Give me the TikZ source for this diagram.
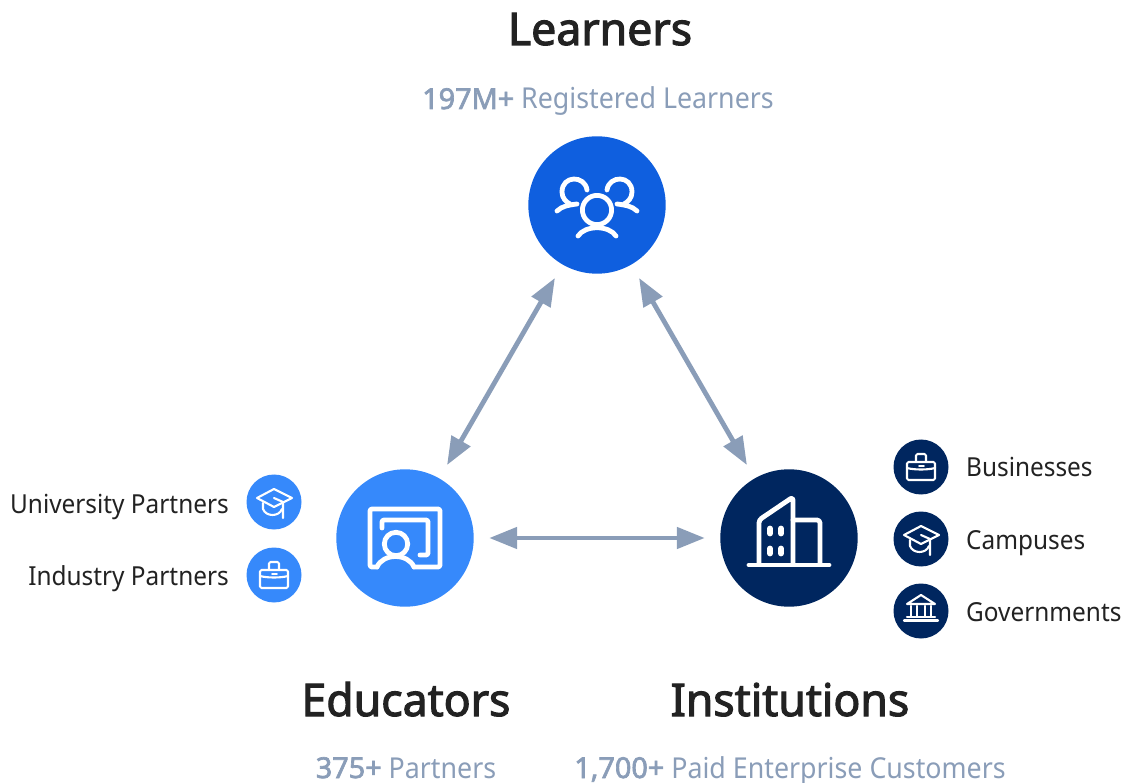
\documentclass[tikz,border=0pt]{standalone}
\usepackage{fontspec}
\setmainfont[FakeStretch=0.93]{Noto Sans}
\newfontfamily\strongf[FakeStretch=0.99,FakeBold=2.4]{Noto Sans}
\newfontfamily\figf[FakeStretch=1.0,FakeBold=2.4]{Noto Sans}
\usetikzlibrary{arrows.meta}
\definecolor{arrowc}{HTML}{8A9DB8}
\definecolor{statc}{HTML}{8A9DB8}
\definecolor{inkc}{HTML}{222222}
\definecolor{learnc}{HTML}{0F5FDF}
\definecolor{educ}{HTML}{3689FB}
\definecolor{instc}{HTML}{00265F}
\tikzset{
  bigdisc/.style={circle,minimum size=137.4pt,inner sep=0pt,outer sep=0pt},
  smalldisc/.style={circle,minimum size=55pt,inner sep=0pt,outer sep=0pt},
  title/.style={anchor=base,font=\fontsize{45}{45}\selectfont\strongf,text=inkc,inner sep=0pt},
  stat/.style={anchor=base,font=\fontsize{28.8}{29}\selectfont,text=statc,inner sep=0pt},
  lab/.style={font=\fontsize{26.2}{26}\selectfont,text=inkc,inner sep=0pt},
  link/.style={draw=arrowc,line width=4.8pt,{Triangle[length=28pt,width=21pt]}-{Triangle[length=28pt,width=21pt]},shorten <=15.5pt,shorten >=15.5pt},
  bigicon/.style={draw=white,line width=4.8pt,line cap=round,line join=round},
  smallicon/.style={draw=white,line width=2.1pt,line cap=round,line join=round},
  pics/briefcase/.style={code={
    \draw[smallicon,rounded corners=1.5pt] (-14,-5) rectangle (14,13);
    \draw[smallicon,rounded corners=1.5pt] (-5,-5) -- (-5,-13) -- (5,-13) -- (5,-5);
    \draw[smallicon] (-14,1) .. controls (-7,3) and (7,3) .. (14,1);
    \draw[smallicon,line width=1.6pt] (-2,-1) -- (3,-1);
  }},
  pics/gradcap/.style={code={
    \draw[smallicon] (-17,-4) -- (0,-13) -- (18,-4) -- (0,5) -- cycle;
    \draw[smallicon] (-11,1) -- (-11,7) .. controls (-8,15) and (5,15) .. (8,7);
    \draw[smallicon] (0,-4) -- (9,0) -- (9,16);
  }},
  pics/bank/.style={code={
    \draw[smallicon] (-14,-7) -- (0,-16) -- (14,-7) -- cycle;
    \draw[smallicon] (-10,-5) -- (-10,5) (-4,-5) -- (-4,5) (4,-5) -- (4,5) (10,-5) -- (10,5);
    \draw[smallicon] (-14,6) -- (14,6);
    \draw[smallicon] (-17,9.5) -- (17,9.5);
  }},
  pics/crowd/.style={code={
    \draw[bigicon] (0,5) circle (14.6);
    \draw[bigicon] (-19,31) .. controls (-12,20) and (12,20) .. (19,31);
    \draw[bigicon] (-10,-15) .. controls (-12,-30) and (-35,-30) .. (-35,-13) .. controls (-35,-7) and (-31,-3) .. (-27,-1);
    \draw[bigicon] (10,-15) .. controls (12,-30) and (35,-30) .. (35,-13) .. controls (35,-7) and (31,-3) .. (27,-1);
    \draw[bigicon] (-40,6) .. controls (-35,1) and (-28,0) .. (-20,-1);
    \draw[bigicon] (40,6) .. controls (35,1) and (28,0) .. (20,-1);
  }},
  pics/teacher/.style={code={
    \draw[bigicon,rounded corners=2pt] (-28,29) -- (-35,29) -- (-35,-29) -- (35,-29) -- (35,29) -- (9,29);
    \draw[bigicon] (-9,6) circle (11.7);
    \draw[bigicon] (-28,29) .. controls (-22,15) and (3,15) .. (9,29);
    \draw[bigicon,rounded corners=2pt] (-23,-10) -- (-23,-18) -- (23,-18) -- (23,17) -- (15,17);
  }},
  pics/tower/.style={code={
    \draw[bigicon] (-40,27) -- (40,27);
    \draw[bigicon,rounded corners=3pt] (-30,26) -- (-30,-18) -- (4,-41) -- (4,26);
    \draw[bigicon,rounded corners=3pt] (4,-18) -- (31,-18) -- (31,26);
    \foreach \wx in {-19,-8} \foreach \wy in {-7,13}
      \draw[white,line width=5.5pt,line cap=round] (\wx,\wy-2.6) -- (\wx,\wy+2.6);
  }},
}
\begin{document}
\begin{tikzpicture}[x=1pt,y=-1pt]
\useasboundingbox (0,0) rectangle (1125,783);
\node[bigdisc,fill=learnc] (learners) at (597,205) {};
\node[bigdisc,fill=educ] (educators) at (405,538) {};
\node[bigdisc,fill=instc] (institutions) at (789,538) {};
\path (learners) pic {crowd};
\path (educators) pic {teacher};
\path (institutions) pic {tower};
\draw[link] (learners) -- (educators);
\draw[link] (learners) -- (institutions);
\draw[link] (educators) -- (institutions);
\node[smalldisc,fill=educ] (univ) at (274,502) {};
\node[smalldisc,fill=educ] (indu) at (274,575) {};
\node[smalldisc,fill=instc] (busi) at (921,467) {};
\node[smalldisc,fill=instc] (camp) at (921,539) {};
\node[smalldisc,fill=instc] (govt) at (921,611) {};
\path (univ) pic {gradcap};
\path (indu) pic {briefcase};
\path (busi) pic {briefcase};
\path (camp) pic {gradcap};
\path (govt) pic {bank};
\node[title] (tl) at (600,45) {Learners};
\node[title] (te) at (406,716) {Educators};
\node[title] (ti) at (790,716) {Institutions};
\node[stat] (sl) at (598,109) {{\figf 197M+} Registered Learners};
\node[stat] (se) at (406,778) {{\figf 375+} Partners};
\node[stat] (si) at (790,778) {{\figf 1,700+} Paid Enterprise Customers};
\node[lab,anchor=base east] (lu) at (229,513) {University Partners};
\node[lab,anchor=base east] (li) at (229,585) {Industry Partners};
\node[lab,anchor=base west] (lb) at (966,477) {Businesses};
\node[lab,anchor=base west] (lc) at (966,549) {Campuses};
\node[lab,anchor=base west] (lg) at (966,621) {Governments};
\end{tikzpicture}
\end{document}
